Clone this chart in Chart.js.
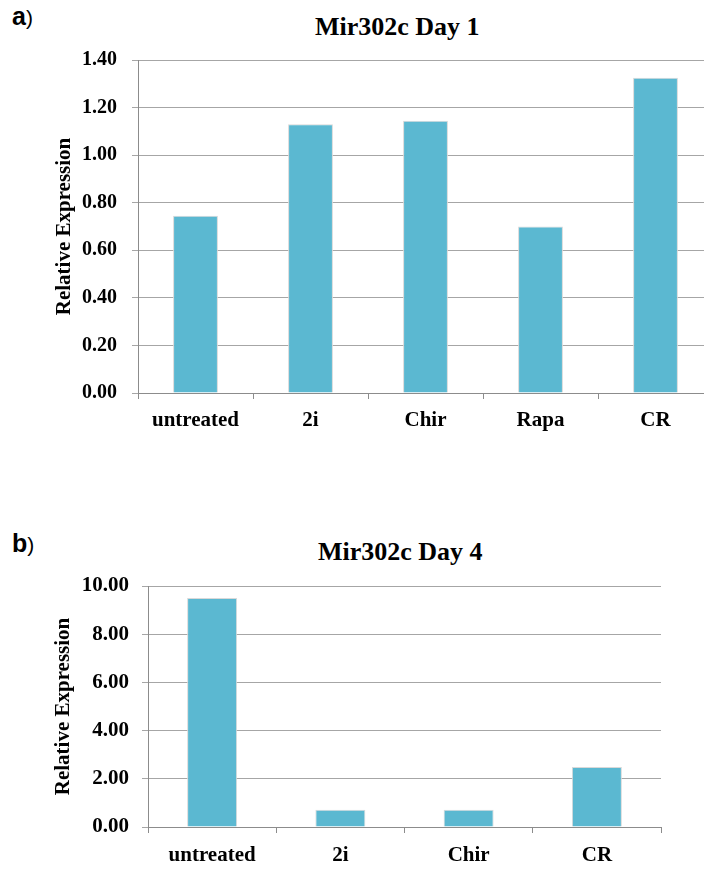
<!DOCTYPE html>
<html>
<head>
<meta charset="utf-8">
<script src="https://cdn.jsdelivr.net/npm/chart.js@4.4.1/dist/chart.umd.min.js"></script>
<style>
  html, body { margin: 0; padding: 0; background: #fff; overflow: hidden; width: 704px; height: 871px; }
  .panel { position: absolute; font-family: "Liberation Sans", Arial, sans-serif; font-size: 25px; font-weight: bold; line-height: 25px; }
  .panel span { font-weight: normal; font-size: 21px; }
  .title { position: absolute; font-family: "Liberation Serif", "Times New Roman", serif; font-weight: bold; font-size: 26px; line-height: 26px; white-space: nowrap; }
  canvas { position: absolute; left: 0; }
</style>
</head>
<body>
<div class="panel" style="left:12px; top:4px;">a<span>)</span></div>
<div class="title" style="left:315px; top:14px;">Mir302c Day 1</div>
<canvas id="day1" width="720" height="440" style="top:0;"></canvas>

<div class="panel" style="left:12px; top:531px;">b<span>)</span></div>
<div class="title" style="left:318px; top:539px;">Mir302c Day 4</div>
<canvas id="day4" width="704" height="381" style="top:490px;"></canvas>

<script>
const day1Labels = ['untreated', '2i', 'Chir', 'Rapa', 'CR'];
const day1Values = [0.745, 1.13, 1.145, 0.70, 1.325];
const day1Axis = [0, 1.4, 0.2]; // min, max, step

const day4Labels = ['untreated', '2i', 'Chir', 'CR'];
const day4Values = [9.5, 0.72, 0.72, 2.49];
const day4Axis = [0, 10, 2];

const serif = '"Liberation Serif", "Times New Roman", serif';
const barColor = '#5bb8d1';
const gridColor = '#a6a6a6';
const axisColor = '#8c8c8c';

// g: layout numbers for one panel
function makeChart(id, labels, values, axis, g) {
  const ctx = document.getElementById(id).getContext('2d');
  return new Chart(ctx, {
    type: 'bar',
    data: {
      labels: labels,
      datasets: [{
        data: values,
        backgroundColor: barColor,
        borderColor: '#d9d9d9',
        borderWidth: 1,
        barPercentage: 0.39,
        categoryPercentage: 1
      }]
    },
    options: {
      responsive: false,
      animation: false,
      layout: { padding: { top: g.top, right: g.right, left: 0, bottom: 0 } },
      plugins: { legend: { display: false }, tooltip: { enabled: false }, title: { display: false } },
      scales: {
        x: {
          grid: { drawOnChartArea: false, drawTicks: true, tickLength: 6, color: axisColor },
          border: { display: true, color: axisColor, width: 1 },
          ticks: { color: '#000', font: { family: serif, size: 21, weight: 'bold' }, padding: g.labelPad, maxRotation: 0, autoSkip: false },
          afterFit: s => { s.height = g.xHeight; s.paddingLeft = 0; s.paddingRight = 0; }
        },
        y: {
          min: axis[0],
          max: axis[1],
          grid: { color: gridColor, tickLength: 6 },
          border: { display: true, color: axisColor, width: 1 },
          ticks: {
            stepSize: axis[2],
            color: '#000',
            font: { family: serif, size: g.tickSize, weight: 'bold' },
            padding: g.tickPad,
            callback: v => v.toFixed(2)
          },
          title: {
            display: true,
            text: 'Relative Expression',
            color: '#000',
            font: { family: serif, size: 21, weight: 'bold' },
            padding: { top: g.titlePad, bottom: 0 }
          },
          afterFit: s => { s.width = g.yWidth; s.paddingTop = 0; s.paddingBottom = 0; }
        }
      }
    }
  });
}

makeChart('day1', day1Labels, day1Values, day1Axis,
  { top: 60, right: 7, xHeight: 47, yWidth: 138, tickSize: 20, tickPad: 15, labelPad: 9, titlePad: 52 });
makeChart('day4', day4Labels, day4Values, day4Axis,
  { top: 96, right: 43, xHeight: 44, yWidth: 148, tickSize: 21, tickPad: 13, labelPad: 10, titlePad: 51 });
</script>
</body>
</html>
